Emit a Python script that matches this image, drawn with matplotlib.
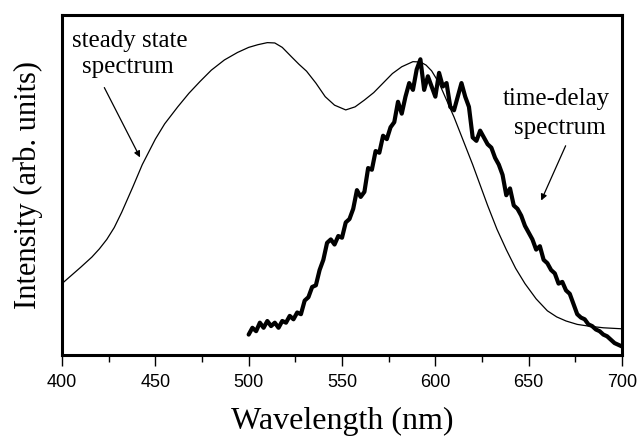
import numpy as np
import matplotlib
matplotlib.use("Agg")
import matplotlib.pyplot as plt
from matplotlib.ticker import MultipleLocator

# --- Data ---
# steady state spectrum (thin line), wavelength in nm, intensity normalised to axis height
steady_wl = [400, 410, 416, 420, 424, 428, 432, 438, 443, 450, 455, 462, 468, 474, 480, 487, 494,
             500, 505, 510, 514, 518, 523, 527, 531, 536, 541, 546, 552, 557, 562,
             567, 572, 577, 582, 588, 592, 595, 598, 602, 606, 610, 615, 620, 624,
             628, 633, 638, 643, 648, 654, 660, 665, 670, 676, 682, 690, 700]
steady_int = [0.21, 0.258, 0.288, 0.312, 0.34, 0.375, 0.42, 0.495, 0.56, 0.635, 0.68, 0.73, 0.77, 0.805, 0.838, 0.868, 0.89,
              0.905, 0.913, 0.919, 0.918, 0.905, 0.877, 0.855, 0.835, 0.80, 0.76, 0.735, 0.721, 0.73, 0.75,
              0.772, 0.80, 0.828, 0.848, 0.863, 0.862, 0.853, 0.836, 0.80, 0.75, 0.70, 0.63, 0.56, 0.50,
              0.44, 0.37, 0.31, 0.255, 0.21, 0.165, 0.13, 0.112, 0.10, 0.09, 0.085, 0.08, 0.077]

# time-delay spectrum (thick noisy line), every 2 nm from 500 to 700
delay_wl = np.arange(500, 701, 2)
delay_int = [0.06, 0.08, 0.07, 0.095, 0.08, 0.10, 0.085, 0.095, 0.08, 0.10,
             0.095, 0.115, 0.105, 0.125, 0.12, 0.16, 0.17, 0.20, 0.205, 0.25,
             0.28, 0.33, 0.34, 0.325, 0.35, 0.345, 0.39, 0.40, 0.43, 0.485,
             0.465, 0.48, 0.55, 0.545, 0.60, 0.595, 0.645, 0.635, 0.67, 0.685,
             0.745, 0.71, 0.76, 0.80, 0.78, 0.84, 0.87, 0.78, 0.82, 0.79,
             0.76, 0.83, 0.79, 0.80, 0.73, 0.72, 0.76, 0.80, 0.76, 0.73,
             0.64, 0.63, 0.66, 0.64, 0.62, 0.61, 0.58, 0.56, 0.53, 0.47,
             0.49, 0.44, 0.43, 0.41, 0.38, 0.36, 0.34, 0.31, 0.32, 0.28,
             0.27, 0.25, 0.24, 0.21, 0.215, 0.19, 0.18, 0.15, 0.12, 0.11,
             0.105, 0.09, 0.085, 0.075, 0.07, 0.06, 0.055, 0.045, 0.035, 0.03,
             0.025]

SERIF = "Liberation Serif"
SANS = "Liberation Sans"

fig = plt.figure(figsize=(6.41, 4.44), dpi=100)
ax = fig.add_axes([0.0967, 0.2005, 0.8737, 0.7655])

ax.plot(steady_wl, steady_int, color="black", lw=0.9)
ax.plot(delay_wl, delay_int, color="black", lw=3.0, solid_joinstyle="round", solid_capstyle="round")

ax.set_xlim(400, 700)
ax.set_ylim(0, 1)
ax.xaxis.set_major_locator(MultipleLocator(50))
ax.xaxis.set_minor_locator(MultipleLocator(25))
ax.tick_params(axis="x", which="major", direction="out", length=8, width=1, pad=6,
               labelsize=13, top=False)
ax.tick_params(axis="x", which="minor", direction="out", length=5, width=1, top=False)
ax.set_yticks([])
for lbl in ax.get_xticklabels():
    lbl.set_fontfamily(SANS)
for sp in ax.spines.values():
    sp.set_linewidth(2.2)

ax.set_xlabel("Wavelength (nm)", fontsize=23, family=SERIF, labelpad=11)
ax.set_ylabel("Intensity (arb. units)", fontsize=22, family=SERIF, labelpad=14)

# annotations
ax.text(436.4, 0.907, "steady state", ha="center", va="baseline", fontsize=18, family=SERIF)
ax.text(435.1, 0.829, "spectrum", ha="center", va="baseline", fontsize=18, family=SERIF)
ax.annotate("", xy=(442.5, 0.574), xytext=(422.0, 0.794),
            arrowprops=dict(arrowstyle="-|>", color="black", lw=0.9, mutation_scale=9))

ax.text(664.6, 0.735, "time-delay", ha="center", va="baseline", fontsize=18, family=SERIF)
ax.text(666.6, 0.650, "spectrum", ha="center", va="baseline", fontsize=18, family=SERIF)
ax.annotate("", xy=(656.1, 0.447), xytext=(670.4, 0.623),
            arrowprops=dict(arrowstyle="-|>", color="black", lw=0.9, mutation_scale=9))

fig.savefig("out.png", dpi=100)
